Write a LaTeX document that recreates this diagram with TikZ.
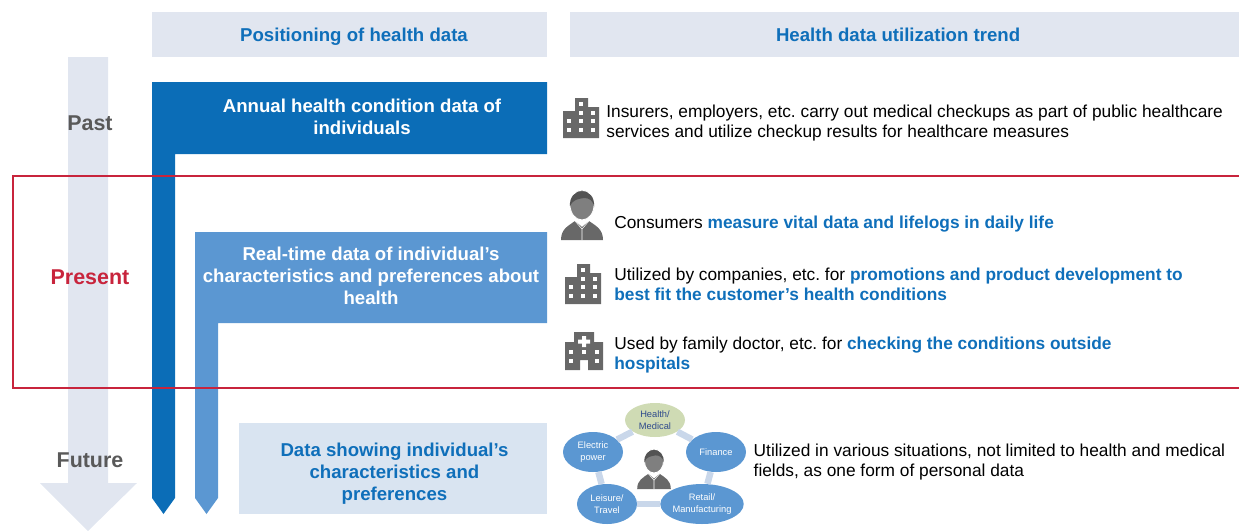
\documentclass[tikz,border=0pt]{standalone}
\usepackage{fontspec}
\setmainfont{Liberation Sans}
\usepackage{xcolor}
\usetikzlibrary{positioning}
\usetikzlibrary{shapes.geometric}

\definecolor{paleblue}{HTML}{E1E6F0}
\definecolor{darkblue}{HTML}{0B6DB7}
\definecolor{midblue}{HTML}{5B97D2}
\definecolor{washblue}{HTML}{D9E4F1}
\definecolor{ringblue}{HTML}{C9D7EA}
\definecolor{titleblue}{HTML}{0F6FBA}
\definecolor{framered}{HTML}{C8243C}
\definecolor{iconGray}{HTML}{686868}
\definecolor{leafgreen}{HTML}{CFDBB4}
\definecolor{inkblue}{HTML}{2F4B8C}

\tikzset{
  header/.style={fill=paleblue, minimum height=0.9cm, text=titleblue, font=\fontsize{10.6}{12}\selectfont\bfseries},
  boxtitle/.style={align=center, inner sep=0pt, font=\fontsize{10.6}{12.6}\selectfont\bfseries},
  era/.style={inner sep=0pt, font=\fontsize{12.2}{14}\selectfont\bfseries},
  usetext/.style={align=left, anchor=west, inner sep=0pt, font=\fontsize{9.85}{11.7}\selectfont\frenchspacing},
  sector/.style={ellipse, fill=midblue, text=white, align=center, inner sep=0pt,
    minimum width=1.2cm, minimum height=0.8cm, font=\fontsize{5.3}{7}\selectfont},
  pics/buildingicon/.style={code={
    \fill[iconGray] (-18,20) -- (-18,-7) -- (-6,-7) -- (-6,-20) -- (7,-20) -- (7,-11) -- (18,-11) -- (18,20) -- cycle;
    \foreach \px/\py in {0/-14, 0/-5, 12/-5, -12/3, 0/3, 12/3, -12/12, 0/12, 12/12}
      \fill[white] (\px-2,\py-2) rectangle (\px+2,\py+2);
  }},
  pics/hospitalicon/.style={code={
    \fill[iconGray] (-19,19) -- (-19,-9) -- (-10,-9) -- (-10,-19) -- (10,-19) -- (10,-9) -- (19,-9) -- (19,19)
      -- (4,19) -- (4,9) -- (-4,9) -- (-4,19) -- cycle;
    \fill[white] (-2,-15) rectangle (2,-4) (-6,-11.5) rectangle (6,-7.5);
    \foreach \px/\py in {-13/1, 0/1, 13/1, -13/10, 13/10}
      \fill[white] (\px-2,\py-2) rectangle (\px+2,\py+2);
  }},
  pics/personicon/.style={code={
    \fill[iconGray] (-21,25) .. controls (-21,14) and (-14,11) .. (-7,6) -- (0,12) -- (7,6)
      .. controls (14,11) and (21,14) .. (21,25) -- cycle;
    \draw[white, line width=0.3pt] (-7,6) -- (0,14) -- (7,6) (0,14) -- (0,25);
    \fill[iconGray!85!white, draw=white, line width=0.5pt] (0,-10) ellipse [x radius=12, y radius=15];
    \fill[iconGray!80!black] (-12,-8) .. controls (-14,-29) and (14,-29) .. (12,-8)
      .. controls (11,-15) and (7,-17) .. (2,-17) .. controls (-3,-16) and (-10,-16) .. (-12,-8) -- cycle;
  }}
}

\begin{document}
\begin{tikzpicture}[x=0.02cm, y=-0.02cm]

  \useasboundingbox (0,0) rectangle (1239,531);

  % Time arrow
  \fill[paleblue] (68,57) -- (108,57) -- (108,483) -- (137,483) -- (88,531) -- (40,483) -- (68,483) -- cycle;

  % Column headers
  \node[header, minimum width=7.9cm] (poshead) at (349.5,34.5) {\hspace*{0.18cm}\raisebox{-3.8pt}[0pt][0pt]{Positioning of health data}};
  \node[header, minimum width=13.4cm, right=0.44cm of poshead] (trendhead) {\raisebox{-3.8pt}[0pt][0pt]{Health data utilization trend}\hspace*{0.26cm}};

  % Data bands
  \fill[darkblue] (152,82) -- (547,82) -- (547,154) -- (175,154) -- (175,498) -- (163.5,514) -- (152,498) -- cycle;
  \fill[midblue] (195,232) -- (547,232) -- (547,323) -- (218,323) -- (218,498) -- (206.5,514) -- (195,498) -- cycle;
  \fill[washblue] (239,423) rectangle (547,514);

  \node[boxtitle, text=white] (annual) at (362,117) {Annual health condition data of\\individuals};
  \node[boxtitle, text=white] (realtime) at (371,276) {Real-time data of individual’s\\characteristics and preferences about\\health};
  \node[boxtitle, text=titleblue] (showing) at (394.5,474) {Data showing individual’s\\characteristics and\\preferences};

  % Present frame
  \draw[framered, line width=1.5pt] (1239,176) -- (13,176) -- (13,388) -- (1239,388);

  % Eras
  \node[era, text=black!65] (past) at (90,123) {Past};
  \node[era, text=framered] (present) at (90,277) {Present};
  \node[era, text=black!65] (future) at (90,460) {Future};

  % Icons
  \coordinate (bldga) at (581,118);
  \coordinate (person) at (582,215);
  \coordinate (bldgb) at (583,284);
  \coordinate (clinic) at (584,351);
  \pic at (bldga) {buildingicon};
  \pic at (person) {personicon};
  \pic at (bldgb) {buildingicon};
  \pic at (clinic) {hospitalicon};

  % Trend texts
  \node[usetext, right=0.5cm of bldga, yshift=-0.1cm] (checkups) {Insurers, employers, etc. carry out medical checkups as part of public healthcare\\services and utilize checkup results for healthcare measures};
  \node[usetext, right=0.64cm of person, yshift=-0.18cm] (vital) {Consumers \textcolor{titleblue}{\bfseries measure vital data and lifelogs in daily life}};
  \node[usetext, right=0.62cm of bldgb, yshift=-0.01cm] (promo) {Utilized by companies, etc. for \textcolor{titleblue}{\bfseries promotions and product development to}\\\textcolor{titleblue}{\bfseries best fit the customer’s health conditions}};
  \node[usetext, right=0.6cm of clinic, yshift=-0.08cm] (family) {Used by family doctor, etc. for \textcolor{titleblue}{\bfseries checking the conditions outside}\\\textcolor{titleblue}{\bfseries hospitals}};

  % Sector ring
  \node[sector, fill=leafgreen, text=inkblue, minimum height=0.68cm] (health) at (655,420) {Health/\\Medical};
  \node[sector] (finance) at (716,452) {Finance};
  \node[sector] (retail) at (702,504) {Retail/\\Manufacturing};
  \node[sector] (leisure) at (607,504) {Leisure/\\Travel};
  \node[sector] (electric) at (593,452) {Electric\\power};
  \foreach \from/\to in {health/finance, finance/retail, retail/leisure, leisure/electric, electric/health}
    \draw[ringblue, line width=0.13cm] (\from) -- (\to);
  \pic[scale=0.8] at (654,469) {personicon};

  \node[usetext, right=0.14cm of finance, yshift=-0.2cm] (various) {Utilized in various situations, not limited to health and medical\\fields, as one form of personal data};

\end{tikzpicture}
\end{document}
